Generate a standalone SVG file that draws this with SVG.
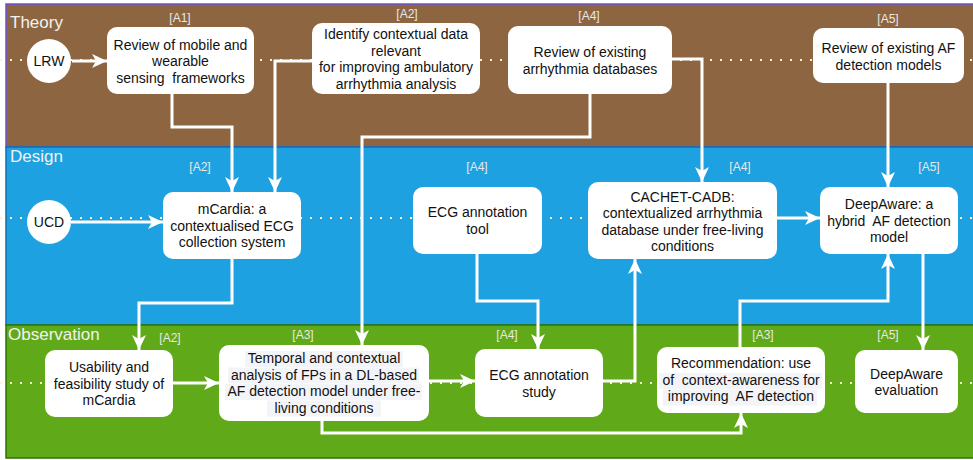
<svg xmlns="http://www.w3.org/2000/svg" width="973" height="460" viewBox="0 0 973 460">
  <style>
    .band-label { font-family: "Liberation Sans", Arial, sans-serif; font-size: 17px; fill: #f2f2f2; }
    .tag { font-family: "Liberation Sans", Arial, sans-serif; font-size: 12px; fill: #e8e8e8; text-anchor: middle; }
    .box { fill: #ffffff; }
    .txt { font-family: "Liberation Sans", Arial, sans-serif; font-size: 14px; fill: #111111; text-anchor: middle; }
    .hl { fill: #f3f4f8; }
    .dots { fill: none; stroke: #fff2cc; stroke-width: 2; stroke-dasharray: 2 8; }
    .conn { fill: none; stroke: #ffffff; stroke-width: 3; }
  </style>
  <defs>
    <marker id="arrow" markerUnits="userSpaceOnUse" markerWidth="16" markerHeight="14" refX="15" refY="7" orient="auto">
      <path d="M0,0 L15,7 L0,14 L4,7 Z" fill="#ffffff"/>
    </marker>
  </defs>

  <!-- swimlanes -->
  <g id="lanes">
    <rect x="6" y="4" width="980" height="143" fill="#8d6641" stroke="#6a50d2" stroke-width="1.5"/>
    <rect x="6" y="147" width="980" height="178" fill="#1ea1e0" stroke="#0e6faf" stroke-width="1.5"/>
    <rect x="6" y="325" width="980" height="133" fill="#60a918" stroke="#2d7600" stroke-width="1.5"/>
    <text class="band-label" x="10" y="28">Theory</text>
    <text class="band-label" x="10" y="162">Design</text>
    <text class="band-label" x="8" y="340">Observation</text>
    <path class="dots" d="M0,60 H973"/>
    <path class="dots" d="M0,218 H973"/>
    <path class="dots" d="M0,383 H973"/>
  </g>

  <!-- connectors -->
  <g id="connectors">
    <path class="conn" d="M72,61 H107" marker-end="url(#arrow)"/>
    <path class="conn" d="M172,94 V127 H232 V192" marker-end="url(#arrow)"/>
    <path class="conn" d="M312,61 H275 V192" marker-end="url(#arrow)"/>
    <path class="conn" d="M590,94 V137 H362 V345" marker-end="url(#arrow)"/>
    <path class="conn" d="M672,59 H702 V182" marker-end="url(#arrow)"/>
    <path class="conn" d="M888,83 V187" marker-end="url(#arrow)"/>
    <path class="conn" d="M71,222 H163" marker-end="url(#arrow)"/>
    <path class="conn" d="M232,259 V303 H139 V350" marker-end="url(#arrow)"/>
    <path class="conn" d="M477,254 V301 H538 V349" marker-end="url(#arrow)"/>
    <path class="conn" d="M603,381 H635 V259" marker-end="url(#arrow)"/>
    <path class="conn" d="M777,218 H820" marker-end="url(#arrow)"/>
    <path class="conn" d="M740,347 V301 H888 V254" marker-end="url(#arrow)"/>
    <path class="conn" d="M923,254 V350" marker-end="url(#arrow)"/>
    <path class="conn" d="M173,383 H219" marker-end="url(#arrow)"/>
    <path class="conn" d="M429,381 H475" marker-end="url(#arrow)"/>
    <path class="conn" d="M322,421 V433 H741 V413" marker-end="url(#arrow)"/>
  </g>

  <!-- Theory lane -->
  <g id="lrw">
    <circle cx="49" cy="61" r="22" fill="#ffffff"/>
    <text class="txt" x="49" y="66">LRW</text>
  </g>
  <g id="review-mobile">
    <text class="tag" x="180" y="22">[A1]</text>
    <rect class="box" x="107" y="27" width="147" height="67" rx="10"/>
    <text class="txt" x="180.5" y="49.5">Review of mobile and</text>
    <text class="txt" x="180.5" y="66">wearable</text>
    <text class="txt" x="180.5" y="82.5" xml:space="preserve">sensing  frameworks</text>
  </g>
  <g id="identify-context">
    <text class="tag" x="407" y="18">[A2]</text>
    <rect class="box" x="312" y="23" width="168" height="71" rx="10"/>
    <text class="txt" x="396" y="39">Identify contextual data</text>
    <text class="txt" x="396" y="55.5">relevant</text>
    <text class="txt" x="396" y="72">for improving ambulatory</text>
    <text class="txt" x="396" y="88.5">arrhythmia analysis</text>
  </g>
  <g id="review-databases">
    <text class="tag" x="589" y="20">[A4]</text>
    <rect class="box" x="508" y="26" width="164" height="68" rx="10"/>
    <text class="txt" x="590" y="57">Review of existing</text>
    <text class="txt" x="590" y="73.5">arrhythmia databases</text>
  </g>
  <g id="review-af-models">
    <text class="tag" x="888" y="23">[A5]</text>
    <rect class="box" x="813" y="28" width="151" height="55" rx="10"/>
    <text class="txt" x="888.5" y="53">Review of existing AF</text>
    <text class="txt" x="888.5" y="69.5">detection models</text>
  </g>

  <!-- Design lane -->
  <g id="ucd">
    <circle cx="49" cy="222" r="22" fill="#ffffff"/>
    <text class="txt" x="49" y="227">UCD</text>
  </g>
  <g id="mcardia">
    <text class="tag" x="200" y="171">[A2]</text>
    <rect class="box" x="163" y="192" width="138" height="67" rx="10"/>
    <text class="txt" x="232" y="214">mCardia: a</text>
    <text class="txt" x="232" y="230.5">contextualised ECG</text>
    <text class="txt" x="232" y="247">collection system</text>
  </g>
  <g id="annotation-tool">
    <text class="tag" x="477" y="171">[A4]</text>
    <rect class="box" x="413" y="187" width="129" height="67" rx="10"/>
    <text class="txt" x="477.5" y="217">ECG annotation</text>
    <text class="txt" x="477.5" y="233.5">tool</text>
  </g>
  <g id="cachet-cadb">
    <text class="tag" x="740" y="171">[A4]</text>
    <rect class="box" x="588" y="182" width="189" height="77" rx="10"/>
    <text class="txt" x="682.5" y="201.5">CACHET-CADB:</text>
    <text class="txt" x="682.5" y="218">contextualized arrhythmia</text>
    <text class="txt" x="682.5" y="234.5">database under free-living</text>
    <text class="txt" x="682.5" y="251">conditions</text>
  </g>
  <g id="deepaware">
    <text class="tag" x="929" y="171">[A5]</text>
    <rect class="box" x="820" y="187" width="138" height="67" rx="10"/>
    <text class="txt" x="889" y="209">DeepAware: a</text>
    <text class="txt" x="889" y="225.5" xml:space="preserve">hybrid  AF detection</text>
    <text class="txt" x="889" y="242">model</text>
  </g>

  <!-- Observation lane -->
  <g id="usability">
    <text class="tag" x="170" y="342">[A2]</text>
    <rect class="box" x="45" y="350" width="128" height="67" rx="10"/>
    <text class="txt" x="109" y="372">Usability and</text>
    <text class="txt" x="109" y="388.5">feasibility study of</text>
    <text class="txt" x="109" y="405">mCardia</text>
  </g>
  <g id="fp-analysis">
    <text class="tag" x="303" y="339">[A3]</text>
    <rect class="box" x="219" y="345" width="210" height="76" rx="10"/>
    <rect class="hl" x="245" y="351" width="158" height="16"/>
    <rect class="hl" x="228" y="367.5" width="191" height="16"/>
    <rect class="hl" x="225" y="384" width="197" height="16"/>
    <rect class="hl" x="267" y="400.5" width="114" height="16"/>
    <text class="txt" x="324" y="363">Temporal and contextual</text>
    <text class="txt" x="324" y="379.5">analysis of FPs in a DL-based</text>
    <text class="txt" x="324" y="396">AF detection model under free-</text>
    <text class="txt" x="324" y="412.5">living conditions</text>
  </g>
  <g id="annotation-study">
    <text class="tag" x="507" y="339">[A4]</text>
    <rect class="box" x="475" y="349" width="128" height="68" rx="10"/>
    <text class="txt" x="539" y="380">ECG annotation</text>
    <text class="txt" x="539" y="396.5">study</text>
  </g>
  <g id="recommendation">
    <text class="tag" x="763" y="339">[A3]</text>
    <rect class="box" x="657" y="347" width="168" height="66" rx="10"/>
    <rect class="hl" x="659" y="373" width="163" height="16"/>
    <rect class="hl" x="663" y="389.5" width="154" height="16"/>
    <text class="txt" x="741" y="368">Recommendation: use</text>
    <text class="txt" x="741" y="384.5" xml:space="preserve">of  context-awareness for</text>
    <text class="txt" x="741" y="401" xml:space="preserve">improving  AF detection</text>
  </g>
  <g id="deepaware-eval">
    <text class="tag" x="888" y="339">[A5]</text>
    <rect class="box" x="855" y="350" width="103" height="63" rx="10"/>
    <text class="txt" x="906.5" y="379">DeepAware</text>
    <text class="txt" x="906.5" y="395">evaluation</text>
  </g>
</svg>
